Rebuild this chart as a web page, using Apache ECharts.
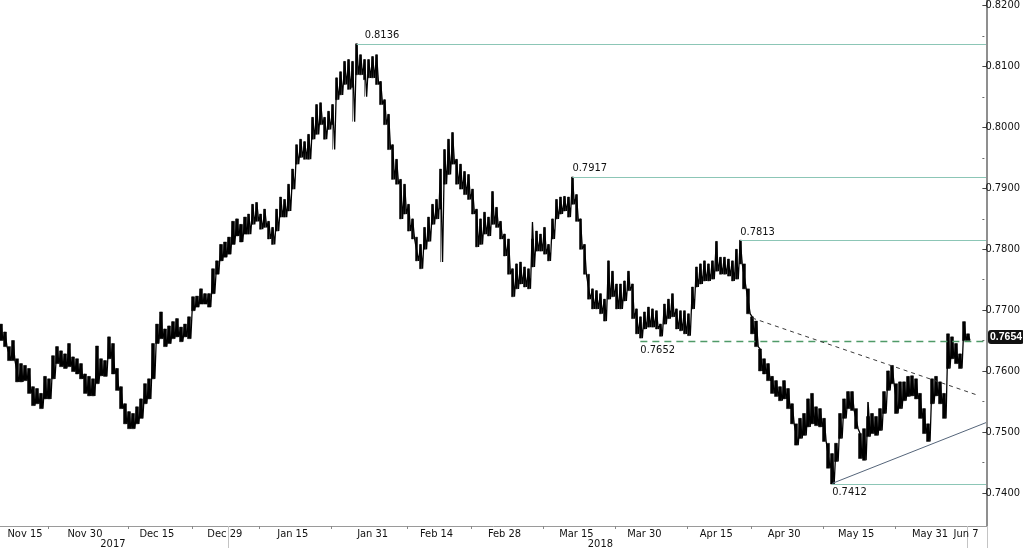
<!DOCTYPE html>
<html><head><meta charset="utf-8">
<script src="https://cdn.jsdelivr.net/npm/echarts@6/dist/echarts.min.js"></script>
<style>html,body{margin:0;padding:0;background:#fff}#c{width:1023px;height:550px}</style>
</head><body><div id="c"></div>
<script>
// Band of each time slot (high / low), Nov 2017 - Jun 2018
const hi = [
0.7675,0.7662,0.7638,0.7648,0.7618,0.7610,0.7607,0.7602,0.7572,0.7569,
0.7561,0.7589,0.7585,0.7623,0.7638,0.7631,0.7626,0.7643,0.7621,0.7618,
0.7610,0.7593,0.7589,0.7585,0.7639,0.7618,0.7615,0.7654,0.7643,0.7602,
0.7572,0.7544,0.7531,0.7528,0.7539,0.7552,0.7577,0.7585,0.7643,0.7675,
0.7695,0.7667,0.7672,0.7679,0.7684,0.7670,0.7675,0.7687,0.7720,0.7721,
0.7733,0.7725,0.7725,0.7766,0.7779,0.7806,0.7810,0.7818,0.7844,0.7848,
0.7839,0.7851,0.7856,0.7872,0.7875,0.7856,0.7864,0.7844,0.7834,0.7864,
0.7884,0.7880,0.7905,0.7930,0.7970,0.7979,0.7975,0.7987,0.8015,0.8036,
0.8039,0.8015,0.8025,0.8036,0.8080,0.8090,0.8107,0.8110,0.8107,0.8136,
0.8118,0.8110,0.8110,0.8115,0.8118,0.8074,0.8044,0.8020,0.7970,0.7946,
0.7913,0.7905,0.7872,0.7848,0.7818,0.7806,0.7834,0.7851,0.7872,0.7880,
0.7930,0.7962,0.7979,0.7990,0.7946,0.7938,0.7926,0.7921,0.7897,0.7864,
0.7848,0.7859,0.7851,0.7893,0.7867,0.7844,0.7823,0.7815,0.7766,0.7774,
0.7777,0.7769,0.7766,0.7815,0.7828,0.7823,0.7834,0.7806,0.7848,0.7880,
0.7884,0.7885,0.7884,0.7917,0.7888,0.7848,0.7806,0.7757,0.7733,0.7730,
0.7725,0.7716,0.7779,0.7762,0.7741,0.7741,0.7746,0.7762,0.7741,0.7700,
0.7687,0.7695,0.7703,0.7700,0.7697,0.7675,0.7708,0.7716,0.7725,0.7700,
0.7697,0.7697,0.7692,0.7736,0.7769,0.7774,0.7779,0.7774,0.7779,0.7811,
0.7785,0.7785,0.7782,0.7779,0.7798,0.7813,0.7774,0.7733,0.7687,0.7680,
0.7634,0.7618,0.7610,0.7589,0.7582,0.7572,0.7582,0.7569,0.7544,0.7511,
0.7520,0.7528,0.7552,0.7561,0.7539,0.7536,0.7520,0.7479,0.7462,0.7479,
0.7528,0.7552,0.7564,0.7564,0.7536,0.7495,0.7503,0.7523,0.7528,0.7523,
0.7536,0.7564,0.7598,0.7607,0.7577,0.7580,0.7580,0.7589,0.7590,0.7585,
0.7561,0.7536,0.7511,0.7585,0.7589,0.7580,0.7561,0.7659,0.7654,0.7643,
0.7626,0.7679,0.7659
];
const lo = [
0.7648,0.7638,0.7615,0.7615,0.7580,0.7580,0.7582,0.7561,0.7541,0.7544,
0.7536,0.7552,0.7552,0.7585,0.7610,0.7605,0.7602,0.7605,0.7597,0.7593,
0.7585,0.7561,0.7557,0.7557,0.7577,0.7590,0.7589,0.7618,0.7593,0.7566,
0.7536,0.7511,0.7503,0.7503,0.7511,0.7520,0.7544,0.7552,0.7585,0.7643,
0.7651,0.7638,0.7643,0.7651,0.7654,0.7646,0.7654,0.7651,0.7697,0.7703,
0.7708,0.7708,0.7703,0.7725,0.7757,0.7779,0.7785,0.7790,0.7806,0.7820,
0.7810,0.7823,0.7823,0.7839,0.7844,0.7831,0.7834,0.7815,0.7806,0.7828,
0.7851,0.7851,0.7861,0.7897,0.7938,0.7949,0.7946,0.7946,0.7979,0.7987,
0.8003,0.7979,0.7995,0.8003,0.8044,0.8052,0.8069,0.8061,0.8064,0.8085,
0.8085,0.8077,0.8080,0.8080,0.8069,0.8036,0.8003,0.7962,0.7913,0.7905,
0.7848,0.7856,0.7828,0.7815,0.7779,0.7766,0.7798,0.7811,0.7839,0.7848,
0.7864,0.7905,0.7921,0.7938,0.7905,0.7897,0.7888,0.7880,0.7856,0.7802,
0.7806,0.7823,0.7820,0.7839,0.7834,0.7815,0.7787,0.7757,0.7720,0.7733,
0.7741,0.7736,0.7733,0.7769,0.7795,0.7795,0.7790,0.7779,0.7815,0.7848,
0.7856,0.7861,0.7851,0.7872,0.7844,0.7798,0.7757,0.7716,0.7700,0.7700,
0.7692,0.7680,0.7716,0.7720,0.7700,0.7700,0.7713,0.7730,0.7684,0.7659,
0.7652,0.7667,0.7670,0.7670,0.7667,0.7655,0.7675,0.7684,0.7687,0.7667,
0.7664,0.7659,0.7656,0.7700,0.7736,0.7741,0.7746,0.7746,0.7749,0.7762,
0.7757,0.7757,0.7754,0.7746,0.7749,0.7774,0.7733,0.7692,0.7659,0.7638,
0.7598,0.7593,0.7582,0.7561,0.7556,0.7549,0.7552,0.7536,0.7511,0.7476,
0.7487,0.7492,0.7506,0.7511,0.7508,0.7506,0.7482,0.7438,0.7412,0.7449,
0.7487,0.7520,0.7536,0.7533,0.7503,0.7454,0.7451,0.7490,0.7495,0.7492,
0.7500,0.7528,0.7566,0.7577,0.7528,0.7536,0.7549,0.7556,0.7557,0.7552,
0.7520,0.7495,0.7482,0.7544,0.7557,0.7544,0.7520,0.7602,0.7618,0.7610,
0.7602,0.7648,0.7648
];
// isolated wicks beyond the band: [slot, price]
const spikes = [[83,0.7962],[88,0.8008],[91,0.8049],[110,0.7777],[133,0.7843],[217,0.7547]];

const slotCount = 247;   // time slots on the axis (data fills the first ones)
const dateLabels = [[6,'Nov 15'],[21,'Nov 30'],[39,'Dec 15'],[56,'Dec 29'],[73,'Jan 15'],[93,'Jan 31'],[109,'Feb 14'],[126,'Feb 28'],[144,'Mar 15'],[161,'Mar 30'],[179,'Apr 15'],[196,'Apr 30'],[214,'May 15'],[232.5,'May 31'],[241.5,'Jun 7']];
const tickSlots = [12,32,48,65,83,102,118,136,154,172,188,206,224];
const yearLabels = [[28,'2017'],[150,'2018']];
const yearMarks = [57,242];
const yTicks = {min:0.74, max:0.82, step:0.01};

const levels = [
  {from:89, value:0.8136, text:'0.8136', below:false, dashed:false},
  {from:143, value:0.7917, text:'0.7917', below:false, dashed:false},
  {from:185, value:0.7813, text:'0.7813', below:false, dashed:false},
  {from:160, value:0.7646, text:'0.7652', below:true, dashed:true},
  {from:208, value:0.7412, text:'0.7412', below:true, dashed:false}
];
const levelLabelShift = [8, 0, 0, 0, 0];
const lastPrice = 0.7654;
const resistance = [[188,0.7685],[244,0.7559]];
const support = [[208,0.7413],[246,0.7513]];

const FONT = "'DejaVu Sans Condensed','DejaVu Sans',sans-serif";
// each slot is split into two sub-points (high then low) so the path zig-zags like a dense bar chart
const SUB = 2;
const categories = Array.from({length: slotCount * SUB}, (_, i) => String(i));
const lastCat = slotCount * SUB - 1;
const c = (slot) => Math.round(slot * SUB);

const zig = [];
const bars = [];
hi.forEach((h, i) => {
  let wl = lo[i], wh = h;
  spikes.forEach(([k, v]) => { if (k === i) { if (v < wl) wl = v; if (v > wh) wh = v; } });
  zig.push(wh, wl);
  bars.push([lo[i], h, wl, wh], '-');
});

const labelMap = new Map(dateLabels.map(([s, t]) => [c(s), t]));
const yearMap = new Map(yearLabels.map(([s, t]) => [c(s), t]));
const tickSet = new Set(tickSlots.map(c));
const yearMarkSet = new Set(yearMarks.map(c));

const markData = levels.map((l, k) => [
  {coord:[c(l.from), l.value],
   lineStyle:{color: l.dashed ? '#4f9a68' : '#8cc6b6', width: l.dashed ? 1.3 : 1.2, type: l.dashed ? [7,5] : 'solid'},
   label:{show:true, formatter:l.text, position: l.below ? 'insideStartBottom' : 'insideStartTop',
          color:'#111', fontSize:11, fontFamily:FONT, distance:[levelLabelShift[k],3]}},
  {coord:[lastCat, l.value]}
]);
markData.push([
  {coord:[c(resistance[0][0]), resistance[0][1]], lineStyle:{color:'#3a3a3a', width:1, type:[4,4]}, label:{show:false}},
  {coord:[c(resistance[1][0]), resistance[1][1]]}
]);
markData.push([
  {coord:[c(support[0][0]), support[0][1]], lineStyle:{color:'#55657a', width:1, type:'solid'}, label:{show:false}},
  {coord:[lastCat, support[1][1]]}
]);
markData.push([
  {coord:[c(242), lastPrice], lineStyle:{color:'rgba(0,0,0,0)', width:0},
   label:{show:true, position:'end', formatter:lastPrice.toFixed(4), color:'#fff', backgroundColor:'#111',
          padding:[2,2,1,2], borderRadius:3, fontSize:10.5, fontWeight:'bold',
          fontFamily:"'Liberation Sans',Arial,sans-serif", distance:2}},
  {coord:[lastCat, lastPrice]}
]);

const chart = echarts.init(document.getElementById('c'));
chart.setOption({
  animation:false,
  backgroundColor:'#fff',
  textStyle:{fontFamily:FONT},
  grid:[
    {left:0, right:36, top:0, bottom:22},
    {left:0, right:36, top:5, bottom:57}
  ],
  xAxis:[
    {type:'category', gridIndex:0, data:categories, boundaryGap:true,
     axisLine:{lineStyle:{color:'#9a9a9a', width:1}},
     axisTick:{show:true, length:3, lineStyle:{color:'#888'}, interval:(idx) => tickSet.has(idx)},
     axisLabel:{show:true, interval:(idx) => labelMap.has(idx), formatter:(v) => labelMap.get(+v) || '',
                margin:3, fontSize:11, color:'#111', fontFamily:FONT},
     splitLine:{show:false}},
    {type:'category', gridIndex:0, data:categories, boundaryGap:true, position:'bottom',
     axisLine:{show:false},
     axisTick:{show:true, length:22, lineStyle:{color:'#c4c4c4'}, interval:(idx) => yearMarkSet.has(idx)},
     axisLabel:{show:true, interval:(idx) => yearMap.has(idx), formatter:(v) => yearMap.get(+v) || '',
                margin:13, fontSize:11, color:'#111', fontFamily:FONT},
     splitLine:{show:false}},
    {type:'category', gridIndex:1, data:['a'], show:false}
  ],
  yAxis:[
    {type:'value', gridIndex:0, position:'right', min:0.7343, max:0.8208,
     axisLine:{show:true, onZero:false, lineStyle:{color:'#6a6a6a', width:1.5}},
     axisTick:{show:false}, axisLabel:{show:false}, splitLine:{show:false}},
    {type:'value', gridIndex:1, position:'right', min:yTicks.min, max:yTicks.max, interval:yTicks.step,
     axisLine:{show:false, onZero:false},
     axisTick:{show:true, length:4, lineStyle:{color:'#444'}},
     minorTick:{show:true, splitNumber:2, length:2, lineStyle:{color:'#666'}},
     axisLabel:{show:true, margin:3, fontSize:11, color:'#111', fontFamily:FONT, formatter:(v) => v.toFixed(4)},
     splitLine:{show:false}}
  ],
  series:[
    {type:'candlestick', xAxisIndex:0, yAxisIndex:0, data:bars, barWidth:3, silent:true,
     itemStyle:{color:'#000', color0:'#000', borderColor:'#000', borderColor0:'#000', borderWidth:0.5}},
    {type:'line', xAxisIndex:0, yAxisIndex:0, data:zig, symbol:'none', silent:true, sampling:null,
     lineStyle:{color:'#000', width:1.3},
     markLine:{silent:true, symbol:['none','none'], animation:false, data:markData}}
  ]
});
</script>
</body></html>
